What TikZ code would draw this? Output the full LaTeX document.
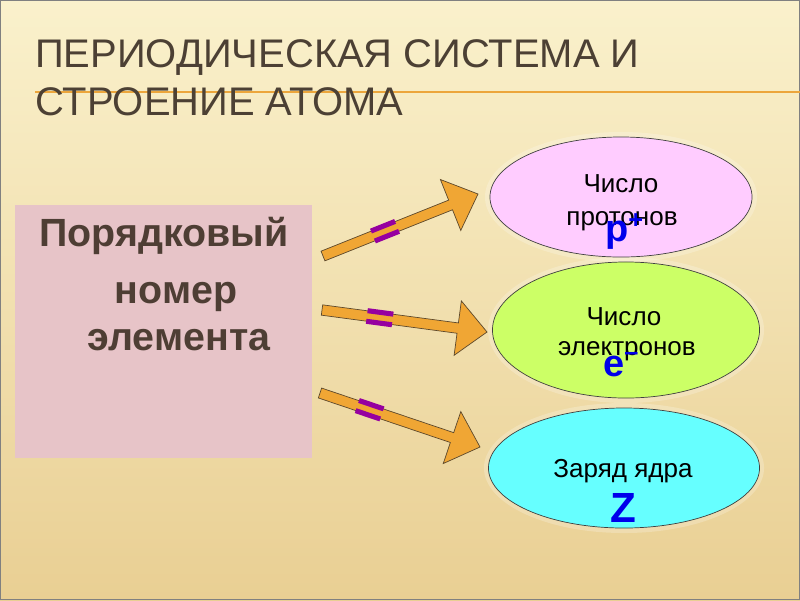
\documentclass[tikz,border=0pt]{standalone}
\usepackage{fontspec}
\setmainfont{Liberation Sans}
\usetikzlibrary{calc,shapes.geometric}
\definecolor{bgtop}{RGB}{250,241,204}
\definecolor{bgbot}{RGB}{233,207,147}
\definecolor{titlec}{RGB}{76,64,52}
\definecolor{boxc}{RGB}{231,196,200}
\definecolor{boxtxt}{RGB}{78,62,52}
\definecolor{rulec}{RGB}{236,166,60}
\definecolor{arrc}{RGB}{240,166,52}
\definecolor{arrline}{RGB}{92,72,44}
\definecolor{eqc}{RGB}{150,0,160}
\definecolor{protc}{RGB}{255,204,255}
\definecolor{elecc}{RGB}{204,255,102}
\definecolor{chargec}{RGB}{102,255,255}
\definecolor{symc}{RGB}{0,0,235}
\tikzset{
  oval/.style={ellipse,draw=black!75,line width=0.5pt,inner sep=0pt},
  halo/.style={ellipse,fill=white,opacity=0.22,inner sep=0pt},
  blockarr/.style={fill=arrc,draw=arrline,line width=0.5pt,line join=miter},
  eqbar/.style={fill=eqc,inner sep=0pt,minimum width=18.5pt,minimum height=3.6pt},
  titletext/.style={font=\fontsize{28.4}{30}\selectfont,text=titlec,anchor=base west,inner sep=0pt},
  boxtext/.style={font=\fontsize{28}{30}\selectfont\bfseries,text=boxtxt,anchor=base},
  small/.style={font=\fontsize{18.5}{20}\selectfont,anchor=base},
  big/.style={font=\fontsize{27}{27}\selectfont\bfseries,text=symc,inner sep=0pt},
}
\newcommand{\blockarrow}[3]{%
  \coordinate (#3) at ($(#2)!21pt!(#1)$);
  \draw[blockarr] ($(#1)!3.7pt!90:(#2)$) -- ($(#3)!3.7pt!90:(#2)$)
    -- ($(#3)!19.5pt!90:(#2)$) -- (#2) -- ($(#3)!19.5pt!-90:(#2)$)
    -- ($(#3)!3.7pt!-90:(#2)$) -- ($(#1)!3.7pt!-90:(#2)$) -- cycle;}

\begin{document}
\begin{tikzpicture}[x=0.025cm,y=-0.025cm]
\useasboundingbox (0,0) rectangle (800,600);
\shade[top color=bgtop,bottom color=bgbot] (0,0) rectangle (800,600);
\draw[black!50,line width=1pt] (0.5,0.5) rectangle (799.5,599.5);
\draw[rulec,line width=1.4pt] (35,92) -- (800,92);
\node[titletext] (t1) at (35,67) {ПЕРИОДИЧЕСКАЯ СИСТЕМА И};
\node[titletext] (t2) at (35,115) {СТРОЕНИЕ АТОМА};

\node[fill=boxc,minimum width=7.425cm,minimum height=6.325cm,inner sep=0pt] (num) at (163.5,331.5) {};
\node[boxtext] (n1) at (164,246) {Порядковый};
\node[boxtext] (n2) at (176,303) {номер};
\node[boxtext] (n3) at (179,350) {элемента};

\node[halo,minimum width=6.8cm,minimum height=3.25cm] (proth) at (621,197) {};
\node[halo,minimum width=6.9cm,minimum height=3.65cm] (elech) at (626,330) {};
\node[halo,minimum width=7.0cm,minimum height=3.25cm] (chargeh) at (624,468) {};
\node[oval,fill=protc,minimum width=6.55cm,minimum height=3cm] (prot) at (621,197) {};
\node[oval,fill=elecc,minimum width=6.675cm,minimum height=3.4cm] (elec) at (626,330) {};
\node[oval,fill=chargec,minimum width=6.775cm,minimum height=3cm] (charge) at (624,468) {};

\node[small] (p1) at (621,192) {Число};
\node[small] (p2) at (622,225) {протонов};
\node[big,anchor=base west] (psym) at (605,241) {p\raisebox{9pt}{\fontsize{18}{18}\selectfont+}};
\node[small] (e1) at (624,325) {Число};
\node[small] (e2) at (627,355) {электронов};
\node[big,anchor=base west] (esym) at (603,376) {e\raisebox{11pt}{\fontsize{18}{18}\selectfont–}};
\node[small] (z1) at (623,477) {Заряд ядра};
\node[big,font=\fontsize{30}{30}\selectfont\bfseries,anchor=base] (zsym) at (623,522) {Z};

\coordinate (a1s) at (323,256);
\coordinate (a1e) at (478,194);
\coordinate (a2s) at (322,310);
\coordinate (a2e) at (487,332);
\coordinate (a3s) at (320,393);
\coordinate (a3e) at (480,447);
\blockarrow{a1s}{a1e}{a1h}
\blockarrow{a2s}{a2e}{a2h}
\blockarrow{a3s}{a3e}{a3h}
\path (a1s) -- (a1e) node[eqbar,pos=0.4,sloped,above=1.8pt] (q1a) {} node[eqbar,pos=0.4,sloped,below=1.8pt] (q1b) {};
\path (a2s) -- (a2e) node[eqbar,pos=0.35,sloped,above=1.8pt] (q2a) {} node[eqbar,pos=0.35,sloped,below=1.8pt] (q2b) {};
\path (a3s) -- (a3e) node[eqbar,pos=0.31,sloped,above=1.8pt] (q3a) {} node[eqbar,pos=0.31,sloped,below=1.8pt] (q3b) {};
\end{tikzpicture}
\end{document}
